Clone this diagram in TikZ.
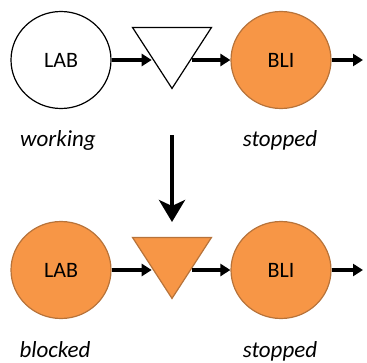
\documentclass[tikz,border=0pt]{standalone}
\usepackage{fontspec}
\setmainfont{Carlito}
\usetikzlibrary{shapes.geometric,arrows.meta}
\definecolor{orng}{HTML}{F79646}
\definecolor{orngdraw}{HTML}{B7733A}
\begin{document}
\begin{tikzpicture}[x=1pt,y=-1pt,
  circ/.style={ellipse, minimum width=100pt, minimum height=97pt, inner sep=0pt, line width=1.2pt, font=\fontsize{22}{24}\selectfont},
  wcirc/.style={circ, draw=black, fill=white},
  ocirc/.style={circ, draw=orngdraw, fill=orng},
  tri/.style={isosceles triangle, isosceles triangle stretches, shape border rotate=270, minimum height=61pt, minimum width=79pt, inner sep=0pt, line width=1.2pt, anchor=apex},
  wtri/.style={tri, draw=black, fill=white},
  otri/.style={tri, draw=orngdraw, fill=orng},
  conn/.style={line width=3.5pt, -{Triangle[length=10pt,width=12pt]}},
  bigarrow/.style={line width=4.5pt, -{Stealth[length=22pt,width=26pt,inset=6pt]}},
  lbl/.style={font=\fontsize{23}{25}\selectfont\itshape, anchor=base, inner sep=0pt}
]
\useasboundingbox (0,0) rectangle (367,362);
% top row
\node[wcirc] (lab1) at (61,60) {LAB};
\node[wtri] (tri1) at (172,90) {};
\node[ocirc] (bli1) at (281,60) {BLI};
\coordinate (out1) at (363,60);
\draw[conn] (lab1.east) -- (lab1.east -| tri1.right side);
\draw[conn] (bli1.west -| tri1.left side) -- (bli1.west);
\draw[conn] (bli1.east) -- (out1);
\node[lbl] (w1) at (58,146) {working};
\node[lbl] (s1) at (280,146) {stopped};
% big arrow
\coordinate (dtop) at (172,135);
\coordinate (dbot) at (172,222);
\draw[bigarrow] (dtop) -- (dbot);
% bottom row
\node[ocirc] (lab2) at (61,270) {LAB};
\node[otri] (tri2) at (172,300) {};
\node[ocirc] (bli2) at (281,270) {BLI};
\coordinate (out2) at (363,270);
\draw[conn] (lab2.east) -- (lab2.east -| tri2.right side);
\draw[conn] (bli2.west -| tri2.left side) -- (bli2.west);
\draw[conn] (bli2.east) -- (out2);
\node[lbl] (b2) at (55,357) {blocked};
\node[lbl] (s2) at (280,357) {stopped};
\end{tikzpicture}
\end{document}
